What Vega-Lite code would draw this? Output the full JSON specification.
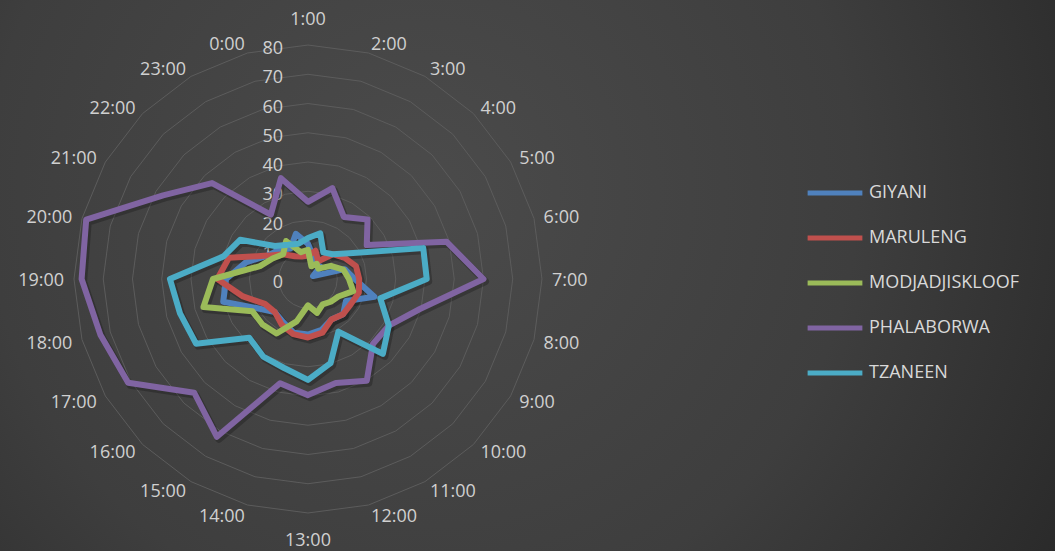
{
  "$schema": "https://vega.github.io/schema/vega-lite/v6.json",
  "width": 1055,
  "height": 551,
  "padding": 0,
  "autosize": {"type": "none"},
  "background": "#383838",
  "config": {
    "font": "Open Sans",
    "view": {
      "stroke": null,
      "fill": {
        "gradient": "radial",
        "x1": 0.4, "y1": 0.42, "r1": 0,
        "x2": 0.4, "y2": 0.42, "r2": 0.75,
        "stops": [
          {"offset": 0, "color": "#4b4b4b"},
          {"offset": 0.55, "color": "#3e3e3e"},
          {"offset": 1, "color": "#262626"}
        ]
      }
    }
  },
  "datasets": {
    "hours": [
      {"hour": "1:00", "idx": 0, "GIYANI": 12, "MARULENG": 8, "MODJADJISKLOOF": 10, "PHALABORWA": 26.4, "TZANEEN": 14},
      {"hour": "2:00", "idx": 1, "GIYANI": 7.5, "MARULENG": 10, "MODJADJISKLOOF": 4.5, "PHALABORWA": 32.2, "TZANEEN": 16.2},
      {"hour": "3:00", "idx": 2, "GIYANI": 6, "MARULENG": 7, "MODJADJISKLOOF": 6, "PHALABORWA": 24.5, "TZANEEN": 10.5},
      {"hour": "4:00", "idx": 3, "GIYANI": 6, "MARULENG": 12, "MODJADJISKLOOF": 5, "PHALABORWA": 28.8, "TZANEEN": 12},
      {"hour": "5:00", "idx": 4, "GIYANI": 2, "MARULENG": 14.5, "MODJADJISKLOOF": 9, "PHALABORWA": 23.2, "TZANEEN": 17.8},
      {"hour": "6:00", "idx": 5, "GIYANI": 13, "MARULENG": 17, "MODJADJISKLOOF": 12.5, "PHALABORWA": 49.1, "TZANEEN": 40.8},
      {"hour": "7:00", "idx": 6, "GIYANI": 16, "MARULENG": 17.5, "MODJADJISKLOOF": 14, "PHALABORWA": 60, "TZANEEN": 40.6},
      {"hour": "8:00", "idx": 7, "GIYANI": 23.5, "MARULENG": 18, "MODJADJISKLOOF": 16, "PHALABORWA": 39.6, "TZANEEN": 25.6},
      {"hour": "9:00", "idx": 8, "GIYANI": 15, "MARULENG": 17, "MODJADJISKLOOF": 12, "PHALABORWA": 31.9, "TZANEEN": 31.9},
      {"hour": "10:00", "idx": 9, "GIYANI": 17, "MARULENG": 17, "MODJADJISKLOOF": 11, "PHALABORWA": 31.4, "TZANEEN": 36.2},
      {"hour": "11:00", "idx": 10, "GIYANI": 16, "MARULENG": 16, "MODJADJISKLOOF": 10, "PHALABORWA": 40.2, "TZANEEN": 20.8},
      {"hour": "12:00", "idx": 11, "GIYANI": 18, "MARULENG": 19, "MODJADJISKLOOF": 12, "PHALABORWA": 36.8, "TZANEEN": 29.8},
      {"hour": "13:00", "idx": 12, "GIYANI": 19, "MARULENG": 20, "MODJADJISKLOOF": 9, "PHALABORWA": 39.7, "TZANEEN": 34.5},
      {"hour": "14:00", "idx": 13, "GIYANI": 19, "MARULENG": 19.5, "MODJADJISKLOOF": 15, "PHALABORWA": 36.9, "TZANEEN": 31.5},
      {"hour": "15:00", "idx": 14, "GIYANI": 17, "MARULENG": 18, "MODJADJISKLOOF": 21.5, "PHALABORWA": 62.3, "TZANEEN": 30.6},
      {"hour": "16:00", "idx": 15, "GIYANI": 16, "MARULENG": 16, "MODJADJISKLOOF": 22, "PHALABORWA": 55, "TZANEEN": 28.4},
      {"hour": "17:00", "idx": 16, "GIYANI": 20, "MARULENG": 17, "MODJADJISKLOOF": 22, "PHALABORWA": 71, "TZANEEN": 44.2},
      {"hour": "18:00", "idx": 17, "GIYANI": 30, "MARULENG": 23, "MODJADJISKLOOF": 37, "PHALABORWA": 73.5, "TZANEEN": 45.3},
      {"hour": "19:00", "idx": 18, "GIYANI": 28, "MARULENG": 31, "MODJADJISKLOOF": 32.5, "PHALABORWA": 77.4, "TZANEEN": 47.2},
      {"hour": "20:00", "idx": 19, "GIYANI": 22, "MARULENG": 28, "MODJADJISKLOOF": 17, "PHALABORWA": 78.5, "TZANEEN": 29.9},
      {"hour": "21:00", "idx": 20, "GIYANI": 16, "MARULENG": 16, "MODJADJISKLOOF": 14, "PHALABORWA": 57.2, "TZANEEN": 26.8},
      {"hour": "22:00", "idx": 21, "GIYANI": 14, "MARULENG": 12, "MODJADJISKLOOF": 12, "PHALABORWA": 46.4, "TZANEEN": 16},
      {"hour": "23:00", "idx": 22, "GIYANI": 12, "MARULENG": 9, "MODJADJISKLOOF": 15, "PHALABORWA": 25.4, "TZANEEN": 13.5},
      {"hour": "0:00", "idx": 23, "GIYANI": 16, "MARULENG": 8, "MODJADJISKLOOF": 9.5, "PHALABORWA": 35.7, "TZANEEN": 12.5}
    ],
    "levels": [
      {"t": 0, "spokes": [0]},
      {"t": 10, "spokes": [0,1,2,3,4,5,6,7,8,9,10,11,12,13,14,15,16,17,18,19,20,21,22,23]},
      {"t": 20, "spokes": [0,1,2,3,4,5,6,7,8,9,10,11,12,13,14,15,16,17,18,19,20,21,22,23]},
      {"t": 30, "spokes": [0,1,2,3,4,5,6,7,8,9,10,11,12,13,14,15,16,17,18,19,20,21,22,23]},
      {"t": 40, "spokes": [0,1,2,3,4,5,6,7,8,9,10,11,12,13,14,15,16,17,18,19,20,21,22,23]},
      {"t": 50, "spokes": [0,1,2,3,4,5,6,7,8,9,10,11,12,13,14,15,16,17,18,19,20,21,22,23]},
      {"t": 60, "spokes": [0,1,2,3,4,5,6,7,8,9,10,11,12,13,14,15,16,17,18,19,20,21,22,23]},
      {"t": 70, "spokes": [0,1,2,3,4,5,6,7,8,9,10,11,12,13,14,15,16,17,18,19,20,21,22,23]},
      {"t": 80, "spokes": [0,1,2,3,4,5,6,7,8,9,10,11,12,13,14,15,16,17,18,19,20,21,22,23]}
    ]
  },
  "encoding": {
    "x": {"type": "quantitative", "scale": {"domain": [-105.3, 255.4], "nice": false, "zero": false}, "axis": null},
    "y": {"type": "quantitative", "scale": {"domain": [-93.0, 95.4], "nice": false, "zero": false}, "axis": null}
  },
  "layer": [
    {
      "data": {"name": "levels"},
      "transform": [
        {"filter": "datum.t > 0"},
        {"flatten": ["spokes"], "as": ["k"]},
        {"calculate": "datum.t * sin(datum.k * PI / 12)", "as": "gx"},
        {"calculate": "datum.t * cos(datum.k * PI / 12)", "as": "gy"}
      ],
      "mark": {"type": "line", "interpolate": "linear-closed", "color": "#5c5c5c", "strokeWidth": 1},
      "encoding": {
        "x": {"field": "gx", "type": "quantitative"},
        "y": {"field": "gy", "type": "quantitative"},
        "detail": {"field": "t", "type": "quantitative"},
        "order": {"field": "k", "type": "quantitative"}
      }
    },
    {
      "data": {"name": "levels"},
      "mark": {"type": "text", "align": "right", "baseline": "middle", "dx": -25, "dy": 4, "fontSize": 18, "color": "#d0d0d0"},
      "encoding": {
        "x": {"datum": 0, "type": "quantitative"},
        "y": {"field": "t", "type": "quantitative"},
        "text": {"field": "t", "type": "quantitative"}
      }
    },
    {
      "data": {"name": "hours"},
      "transform": [
        {"filter": "datum.idx >= 1 && datum.idx <= 11"},
        {"calculate": "83.4 * sin(datum.idx * PI / 12)", "as": "lx"},
        {"calculate": "83.4 * cos(datum.idx * PI / 12)", "as": "ly"}
      ],
      "mark": {"type": "text", "align": "left", "baseline": "middle", "dy": 2, "fontSize": 18, "color": "#d0d0d0"},
      "encoding": {
        "x": {"field": "lx", "type": "quantitative"},
        "y": {"field": "ly", "type": "quantitative"},
        "text": {"field": "hour", "type": "nominal"}
      }
    },
    {
      "data": {"name": "hours"},
      "transform": [
        {"filter": "datum.idx >= 13"},
        {"calculate": "83.4 * sin(datum.idx * PI / 12)", "as": "lx"},
        {"calculate": "83.4 * cos(datum.idx * PI / 12)", "as": "ly"}
      ],
      "mark": {"type": "text", "align": "right", "baseline": "middle", "dy": 2, "fontSize": 18, "color": "#d0d0d0"},
      "encoding": {
        "x": {"field": "lx", "type": "quantitative"},
        "y": {"field": "ly", "type": "quantitative"},
        "text": {"field": "hour", "type": "nominal"}
      }
    },
    {
      "data": {"name": "hours"},
      "transform": [
        {"filter": "datum.idx == 0"},
        {"calculate": "83.4 * sin(datum.idx * PI / 12)", "as": "lx"},
        {"calculate": "83.4 * cos(datum.idx * PI / 12)", "as": "ly"}
      ],
      "mark": {"type": "text", "align": "center", "baseline": "bottom", "dy": -6, "fontSize": 18, "color": "#d0d0d0"},
      "encoding": {
        "x": {"field": "lx", "type": "quantitative"},
        "y": {"field": "ly", "type": "quantitative"},
        "text": {"field": "hour", "type": "nominal"}
      }
    },
    {
      "data": {"name": "hours"},
      "transform": [
        {"filter": "datum.idx == 12"},
        {"calculate": "83.4 * sin(datum.idx * PI / 12)", "as": "lx"},
        {"calculate": "83.4 * cos(datum.idx * PI / 12)", "as": "ly"}
      ],
      "mark": {"type": "text", "align": "center", "baseline": "top", "dy": 9, "fontSize": 18, "color": "#d0d0d0"},
      "encoding": {
        "x": {"field": "lx", "type": "quantitative"},
        "y": {"field": "ly", "type": "quantitative"},
        "text": {"field": "hour", "type": "nominal"}
      }
    },
    {
      "data": {"name": "hours"},
      "transform": [
        {"fold": ["GIYANI", "MARULENG", "MODJADJISKLOOF", "PHALABORWA", "TZANEEN"], "as": ["series", "value"]},
        {"calculate": "datum.value * sin(datum.idx * PI / 12)", "as": "px"},
        {"calculate": "datum.value * cos(datum.idx * PI / 12)", "as": "py"}
      ],
      "mark": {"type": "line", "interpolate": "linear-closed", "strokeWidth": 7, "strokeJoin": "round", "color": "#111111", "opacity": 0.3, "xOffset": 2, "yOffset": 2.5},
      "encoding": {
        "x": {"field": "px", "type": "quantitative"},
        "y": {"field": "py", "type": "quantitative"},
        "order": {"field": "idx", "type": "quantitative"},
        "detail": {"field": "series", "type": "nominal"}
      }
    },
    {
      "data": {"name": "hours"},
      "transform": [
        {"fold": ["GIYANI", "MARULENG", "MODJADJISKLOOF", "PHALABORWA", "TZANEEN"], "as": ["series", "value"]},
        {"calculate": "datum.value * sin(datum.idx * PI / 12)", "as": "px"},
        {"calculate": "datum.value * cos(datum.idx * PI / 12)", "as": "py"}
      ],
      "mark": {"type": "line", "interpolate": "linear-closed", "strokeWidth": 6, "strokeJoin": "round", "strokeCap": "round"},
      "encoding": {
        "x": {"field": "px", "type": "quantitative"},
        "y": {"field": "py", "type": "quantitative"},
        "order": {"field": "idx", "type": "quantitative"},
        "color": {
          "field": "series",
          "type": "nominal",
          "scale": {
            "domain": ["GIYANI", "MARULENG", "MODJADJISKLOOF", "PHALABORWA", "TZANEEN"],
            "range": ["#4f81bd", "#c0504d", "#9bbb59", "#8064a2", "#4bacc6"]
          },
          "legend": {
            "title": null,
            "orient": "none",
            "legendX": 805,
            "legendY": 163,
            "symbolType": "stroke",
            "symbolSize": 3000,
            "symbolStrokeWidth": 5,
            "labelFontSize": 18,
            "labelColor": "#d9d9d9",
            "labelOffset": 4,
            "rowPadding": 5
          }
        }
      }
    }
  ]
}
